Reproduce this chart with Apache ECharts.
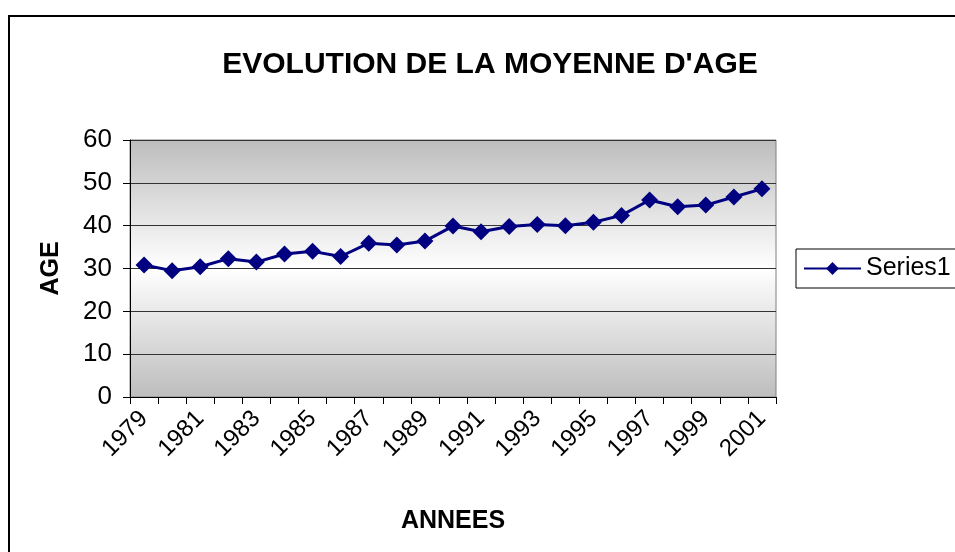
<!DOCTYPE html>
<html>
<head>
<meta charset="utf-8">
<script src="https://cdn.jsdelivr.net/npm/echarts@6/dist/echarts.min.js"></script>
<style>
html,body{margin:0;padding:0;background:#fff;}
#c{width:955px;height:552px;}
</style>
</head>
<body>
<div id="c"></div>
<script>
const years = ['1979','1980','1981','1982','1983','1984','1985','1986','1987','1988','1989','1990','1991','1992','1993','1994','1995','1996','1997','1998','1999','2000','2001'];
const series1 = [30.8,29.5,30.4,32.3,31.5,33.4,34.0,32.8,35.9,35.5,36.4,39.9,38.6,39.8,40.3,40.0,40.8,42.4,46.0,44.4,44.8,46.7,48.6];
const yTicks = [0,10,20,30,40,50,60];

const chart = echarts.init(document.getElementById('c'), null, {renderer:'canvas'});
const FONT = 'Liberation Sans, Arial, sans-serif';
chart.setOption({
  animation:false,
  graphic:[{type:'rect', shape:{x:9,y:16,width:1000,height:1000}, style:{fill:'none', stroke:'#000', lineWidth:2}, z:-1}],
  title:{text:'EVOLUTION DE LA MOYENNE D\'AGE', left:485, top:45, textAlign:'center',
    textStyle:{fontFamily:FONT, fontWeight:'bold', fontSize:30, color:'#000'}},
  legend:{left:796, top:249, orient:'vertical', data:['Series1'], itemWidth:57, itemHeight:16, itemGap:0,
    borderColor:'#000', borderWidth:1, padding:[7,60,7,7],
    textStyle:{fontFamily:FONT, fontSize:25, color:'#000'}},
  grid:{left:130, right:179, top:140, bottom:155, show:true, borderColor:'#808080', borderWidth:1,
    backgroundColor:new echarts.graphic.LinearGradient(0,0,0,1,[
      {offset:0,color:'#bdbdbd'},{offset:0.5,color:'#ffffff'},{offset:1,color:'#bdbdbd'}])},
  xAxis:{type:'category', data:years, boundaryGap:true, name:'ANNEES', nameLocation:'middle', nameGap:112,
    nameTextStyle:{fontFamily:FONT, fontWeight:'bold', fontSize:25, color:'#000'},
    axisLine:{lineStyle:{color:'#000', width:1}},
    axisTick:{show:true, interval:0, length:7, lineStyle:{color:'#000'}},
    axisLabel:{interval:1, rotate:45, fontFamily:FONT, fontSize:24, color:'#000', margin:18}},
  yAxis:{type:'value', min:yTicks[0], max:yTicks[yTicks.length-1], interval:10, name:'AGE', nameLocation:'middle', nameGap:66,
    nameTextStyle:{fontFamily:FONT, fontWeight:'bold', fontSize:25, color:'#000'},
    axisLine:{show:true, lineStyle:{color:'#000', width:1}},
    axisTick:{show:true, length:7, lineStyle:{color:'#000'}},
    axisLabel:{fontFamily:FONT, fontSize:26, color:'#000', margin:18},
    splitLine:{show:true, lineStyle:{color:'#333', width:1}}},
  series:[{name:'Series1', type:'line', data:series1, symbol:'diamond', symbolSize:17,
    lineStyle:{color:'#000080', width:3}, itemStyle:{color:'#000080'}}]
});
</script>
</body>
</html>
